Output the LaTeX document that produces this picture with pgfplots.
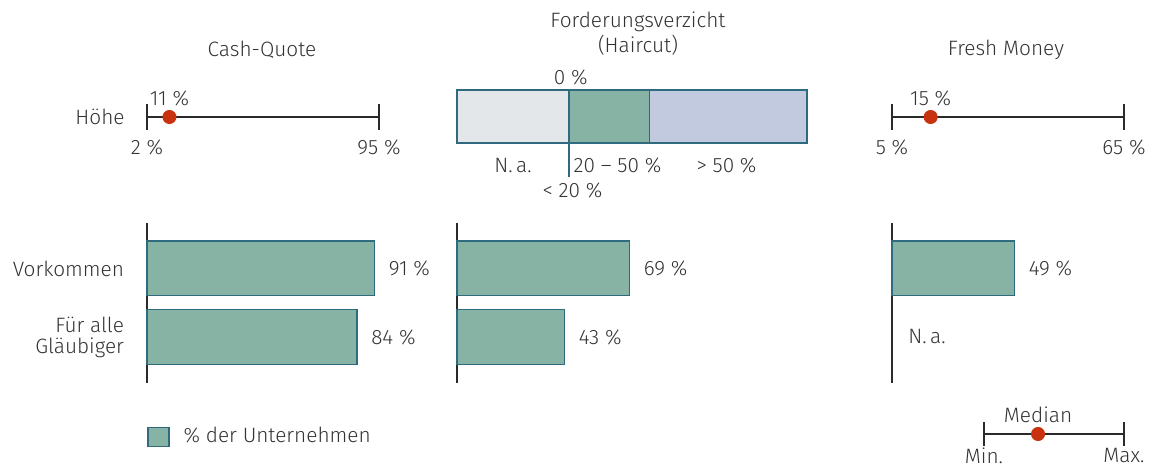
\documentclass[border=0pt]{standalone}
\usepackage{fontspec}
\setmainfont{Fira Sans Light}
\usepackage{pgfplots}
\pgfplotsset{compat=1.18}
\pgfkeys{/pgf/number format/assume math mode=true}
\definecolor{barfill}{HTML}{86B3A3}
\definecolor{bardraw}{HTML}{2F6A7E}
\definecolor{nagray}{HTML}{E4E7EA}
\definecolor{bigblue}{HTML}{C1CADF}
\definecolor{dotred}{HTML}{C8320F}
\definecolor{txt}{HTML}{333333}
\definecolor{ln}{HTML}{2A2A2A}

\begin{document}
\begin{tikzpicture}[font=\fontsize{10.4}{12.4}\selectfont, text=txt]
\path[use as bounding box] (0,0) rectangle (576pt,-235pt);

\pgfplotsset{
 rangeax/.style={scale only axis, hide axis, clip=false, height=13pt, width=116pt, ymin=-1, ymax=1, anchor=west},
 rl/.style={ln, line width=0.75pt},
 barax/.style={scale only axis, clip=false, width=125pt, height=80pt, xmin=0, xmax=100,
   ymin=-0.664, ymax=1.672, y dir=reverse, axis x line=none, axis y line=left,
   axis line style={-, draw=ln, line width=0.75pt}, ytick=\empty, major tick length=0,
   anchor=north west, xbar, bar width=0.8,
   nodes near coords={\pgfmathprintnumber{\pgfplotspointmeta}~\%},
   every node near coord/.append style={text=txt, xshift=3.5pt}},
 barplot/.style={fill=barfill, draw=bardraw, line width=0.6pt},
}

% titles
\node at (131pt,-25pt) {Cash-Quote};
\node at (319pt,-11pt) {Forderungsverzicht};
\node at (319pt,-22.5pt) {(Haircut)};
\node at (503pt,-25pt) {Fresh Money};
\node[anchor=east, inner sep=0pt] at (62.5pt,-58.5pt) {Höhe};

% Cash-Quote range
\begin{axis}[rangeax, at={(73.5pt,-58.5pt)}, xmin=2, xmax=95]
\addplot[rl] coordinates {(2,0) (95,0)};
\addplot[rl] coordinates {(2,-1) (2,1)};
\addplot[rl] coordinates {(95,-1) (95,1)};
\addplot[only marks, mark=*, mark size=3.3pt, dotred] coordinates {(11,0)};
\node[anchor=south, inner sep=0pt] at (axis cs:11,0.85) {11~\%};
\node[anchor=north, inner sep=0pt] at (axis cs:2,-1.7) {2~\%};
\node[anchor=north, inner sep=0pt] at (axis cs:95,-1.7) {95~\%};
\end{axis}

% Fresh Money range
\begin{axis}[rangeax, at={(446pt,-58.5pt)}, xmin=5, xmax=65]
\addplot[rl] coordinates {(5,0) (65,0)};
\addplot[rl] coordinates {(5,-1) (5,1)};
\addplot[rl] coordinates {(65,-1) (65,1)};
\addplot[only marks, mark=*, mark size=3.3pt, dotred] coordinates {(15,0)};
\node[anchor=south, inner sep=0pt] at (axis cs:15,0.85) {15~\%};
\node[anchor=north, inner sep=0pt] at (axis cs:5,-1.7) {5~\%};
\node[anchor=north, inner sep=0pt] at (axis cs:65,-1.7) {65~\%};
\end{axis}

% Haircut stacked bar
\begin{axis}[scale only axis, hide axis, clip=false, width=175pt, height=26.5pt,
  xmin=0, xmax=100, ymin=-0.5, ymax=0.5, anchor=north west, at={(228.5pt,-45pt)},
  xbar stacked, bar width=1, ytick=\empty]
\addplot[fill=nagray, draw=bardraw, line width=0.6pt] coordinates {(32,0)};
\addplot[fill=barfill, draw=bardraw, line width=0.6pt] coordinates {(23,0)};
\addplot[fill=bigblue, draw=bardraw, line width=0.6pt] coordinates {(45,0)};
\draw[bardraw, line width=0.75pt] (axis cs:32,0.5) -- (axis cs:32,-1.14);
\node at (axis cs:16,0) {32~\%};
\node at (axis cs:43.5,0) {23~\%};
\node at (axis cs:76.5,0) {45~\%};
\node at (axis cs:32.5,0.745) {0~\%};
\node at (axis cs:16,-0.915) {N.\,a.};
\node[anchor=west, inner sep=0pt] at (axis cs:33.2,-0.915) {20 – 50~\%};
\node at (axis cs:77,-0.915) {>~50~\%};
\node at (axis cs:33,-1.387) {<~20~\%};
\end{axis}

% Bars: Cash-Quote
\begin{axis}[barax, at={(73.5pt,-111.5pt)}, ytick={0,1},
  yticklabels={Vorkommen,{Für alle\\Gläubiger}},
  yticklabel style={align=right, xshift=-8pt, font=\fontsize{10.4}{10.5}\selectfont},
  legend style={at={(0,0)}, anchor=north west, yshift=-20pt, draw=none, fill=none, inner sep=0pt,
    cells={anchor=west}, /tikz/every odd column/.append style={column sep=5pt}},
  legend image code/.code={\draw[fill=barfill, draw=bardraw, line width=0.6pt] (0pt,-4.75pt) rectangle (10.5pt,4.75pt);}]
\addplot[barplot] coordinates {(91,0) (84,1)};
\addlegendentry{\% der Unternehmen}
\end{axis}

% Bars: Haircut
\begin{axis}[barax, at={(228.5pt,-111.5pt)}]
\addplot[barplot] coordinates {(69,0) (43,1)};
\end{axis}

% Bars: Fresh Money
\begin{axis}[barax, at={(446pt,-111.5pt)}]
\addplot[barplot] coordinates {(49,0)};
\node[anchor=west, inner sep=0pt, xshift=8pt] at (axis cs:0,1) {N.\,a.};
\end{axis}

% Median key
\begin{axis}[rangeax, width=70pt, height=12pt, at={(492pt,-217pt)}, xmin=0, xmax=1]
\addplot[rl] coordinates {(0,0) (1,0)};
\addplot[rl] coordinates {(0,-1) (0,1)};
\addplot[rl] coordinates {(1,-1) (1,1)};
\addplot[only marks, mark=*, mark size=3.3pt, dotred] coordinates {(0.386,0)};
\node[anchor=south, inner sep=0pt] at (axis cs:0.386,0.9) {Median};
\node[anchor=north, inner sep=0pt] at (axis cs:0,-1.12) {Min.};
\node[anchor=north, inner sep=0pt] at (axis cs:1,-1.12) {Max.};
\end{axis}
\end{tikzpicture}
\end{document}
